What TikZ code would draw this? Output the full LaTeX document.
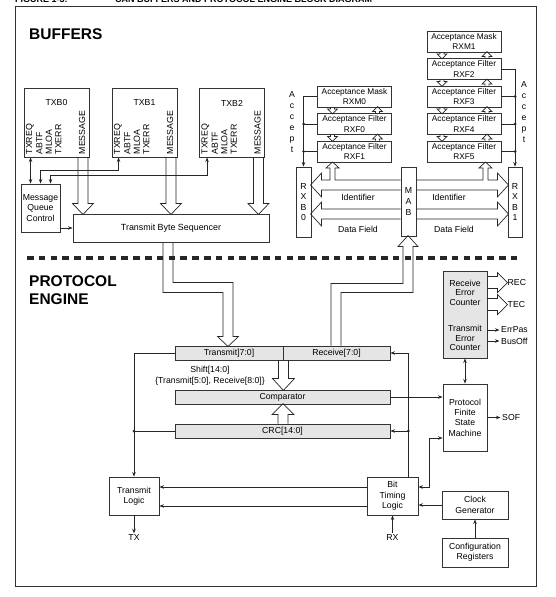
\documentclass[tikz,border=0pt]{standalone}
\usepackage{fontspec}
\setmainfont{Liberation Sans}
\usetikzlibrary{arrows.meta}

\begin{document}
\begin{tikzpicture}[x=1pt, y=-1pt,
	blk/.style={draw=black!80, line width=0.9pt, inner sep=0pt, align=center, font=\fontsize{8.7}{10.3}\selectfont},
	reg/.style={blk, fill=black!10},
	lbl/.style={inner sep=1.5pt, align=center, font=\fontsize{8.7}{10.8}\selectfont},
	sig/.style={inner sep=0pt, rotate=90, anchor=west, font=\fontsize{8.8}{10}\selectfont},
	wire/.style={draw=black!85, line width=0.7pt},
	arr/.style={wire, -{Stealth[length=4.5pt, width=3.5pt]}},
	darr/.style={wire, {Stealth[length=4.5pt, width=3.5pt]}-{Stealth[length=4.5pt, width=3.5pt]}},
	pipe/.style={draw=black!85, line width=0.7pt},
	dot/.style={circle, fill=black!85, inner sep=0pt, minimum size=3pt},
	title/.style={inner sep=0pt, anchor=base west, font=\fontsize{15.5}{18}\selectfont\bfseries}]
	\useasboundingbox (0,0) rectangle (555,597);
	\node[inner sep=0pt, anchor=base west, font=\fontsize{9}{10}\selectfont\bfseries] (fignum) at (15,2) {FIGURE 1-3:};
	\node[inner sep=0pt, anchor=base west, font=\fontsize{9}{10}\selectfont\bfseries] (figtitle) at (115,2) {CAN BUFFERS AND PROTOCOL ENGINE BLOCK DIAGRAM};
	\draw[black!80, line width=1pt] (15,6) rectangle (536,586);
	
	\node[title] (buf) at (29,39) {BUFFERS};
	\node[title] (pe1) at (29,286) {PROTOCOL};
	\node[title] (pe2) at (29,304) {ENGINE};
	
	\foreach \b/\x in {0/56.5, 1/144.5, 2/232}
	{
		\node[blk, minimum width=65pt, minimum height=69pt] (txb\b) at (\x,122.5) {};
		\node[lbl, inner sep=0pt] (txb\b n) at (\x,103) {TXB\b};
		\foreach \s/\dx in {TXREQ/6.3, ABTF/15.8, MLOA/25.3, TXERR/34.8, MESSAGE/58.5}
			\node[sig] (txb\b\s) at ([xshift=\dx pt, yshift=3pt]txb\b.south west) {\s};
		\draw[pipe] ([xshift=-11.5pt]txb\b.south east) -- ++(0,46) -- ++(-5.5,0) -- ++(10.5,11) -- ++(10.5,-11) -- ++(-5.5,0) -- ++(0,-46);
	}
	\node[blk, minimum width=39pt, minimum height=48pt] (mqc) at (40.5,208) {Message\\Queue\\Control};
	\node[blk, minimum width=196pt, minimum height=28pt, font=\fontsize{8.9}{10}\selectfont] (tbs) at (171,228) {Transmit Byte Sequencer};
	\draw[darr] ([xshift=7pt]txb0.south west) -- ([xshift=10pt]mqc.north west);
	\draw[darr] ([xshift=20pt]mqc.north west) |- ([xshift=7pt, yshift=-13pt]txb1.south west) -- ([xshift=7pt]txb1.south west);
	\draw[darr] ([xshift=30pt]mqc.north west) |- ([xshift=8pt, yshift=-18pt]txb2.south west) -- ([xshift=8pt]txb2.south west);
	\draw[arr] (mqc.east |- tbs.west) -- (tbs.west);
	
	\foreach \nm/\kind/\reg/\cx/\cy in {rxm1/Mask/RXM1/464/41.5, rxf2/Filter/RXF2/464/69, rxf3/Filter/RXF3/464/96.5, rxf4/Filter/RXF4/464/124, rxf5/Filter/RXF5/464/151.5, rxm0/Mask/RXM0/354.5/96.5, rxf0/Filter/RXF0/354.5/124, rxf1/Filter/RXF1/354.5/151.5}
		\node[blk, minimum width=74pt, minimum height=21pt, font=\fontsize{8.3}{10.5}\selectfont] (\nm) at (\cx,\cy) {Acceptance \kind\\\reg};
	\foreach \u/\l in {rxm1/rxf2, rxf2/rxf3, rxf3/rxf4, rxf4/rxf5, rxm0/rxf0, rxf0/rxf1}
	{
		\draw[pipe] ([xshift=-24pt]\u.south) -- ++(0,1.5) -- ++(-3,0) -- ++(5,5) -- ++(5,-5) -- ++(-3,0) -- ++(0,-1.5);
		\draw[pipe] ([xshift=21pt]\l.north) -- ++(0,-1.5) -- ++(-3,0) -- ++(5,-5) -- ++(5,5) -- ++(-3,0) -- ++(0,1.5);
	}
	\node[blk, minimum width=15pt, minimum height=70pt, font=\fontsize{8.7}{10.6}\selectfont] (rxb0) at (303.5,202) {R\\X\\B\\0};
	\node[blk, minimum width=15pt, minimum height=69pt, font=\fontsize{8.7}{10.6}\selectfont] (mab) at (408.5,201.5) {M\\A\\B};
	\node[blk, minimum width=14pt, minimum height=70pt, font=\fontsize{8.7}{10.6}\selectfont] (rxb1) at (515,202) {R\\X\\B\\1};
	\node[lbl, font=\fontsize{8.7}{11}\selectfont] (accl) at (292,122.5) {A\\c\\c\\e\\p\\t};
	\node[lbl, font=\fontsize{8.7}{11}\selectfont] (accr) at (524,112.5) {A\\c\\c\\e\\p\\t};
	\draw[arr] (rxm0.west) -| (rxb0.north);
	\foreach \f in {rxf0, rxf1}
		\draw[wire] (\f.west) -- (\f.west -| rxb0.north) node[dot] {};
	\draw[arr] (rxf2.east) -| (rxb1.north);
	\foreach \f in {rxf3, rxf4, rxf5}
		\draw[wire] (\f.east) -- (\f.east -| rxb1.north) node[dot] {};
	
	\draw[pipe] ([yshift=21.5pt]mab.west) -- ++(-65.5,0) -- ++(0,-12) -- ++(4,0) -- ++(-6.5,-6) -- ++(-6.5,6) -- ++(4,0) -- ++(0,12) -- ++(-8.5,0) -- ++(0,-7) -- ++(-11,12) -- ++(11,12) -- ++(0,-7) -- ++(79,0);
	\draw[pipe] ([yshift=21.5pt]mab.east) -- ++(66.5,0) -- ++(0,-12) -- ++(-4,0) -- ++(6.5,-6) -- ++(6.5,6) -- ++(-4,0) -- ++(0,12) -- ++(9.5,0) -- ++(0,-7) -- ++(11,12) -- ++(-11,12) -- ++(0,-7) -- ++(-81,0);
	\draw[pipe] ([yshift=-7.5pt]mab.west) -- ++(-79,0) -- ++(0,-7) -- ++(-11,12) -- ++(11,12) -- ++(0,-7) -- ++(79,0);
	\draw[pipe] ([yshift=-7.5pt]mab.east) -- ++(81,0) -- ++(0,-7) -- ++(11,12) -- ++(-11,12) -- ++(0,-7) -- ++(-81,0);
	\node[lbl] (idl) at (358,197) {Identifier};
	\node[lbl] (idr) at (449,197) {Identifier};
	\node[lbl] (dfl) at (358,229) {Data Field};
	\node[lbl] (dfr) at (454,229) {Data Field};
	
	\node[reg, minimum width=108pt, minimum height=14pt] (trx) at (229,353) {Transmit]7:0]};
	\node[reg, minimum width=107pt, minimum height=14pt] (rcv) at (336.5,353) {Receive[7:0]};
	\node[reg, minimum width=215pt, minimum height=14pt] (cmp) at (282.5,397) {Comparator};
	\node[reg, minimum width=215pt, minimum height=14pt] (crc) at (282.5,431) {CRC[14:0]};
	\node[lbl] (shift) at (210,375.5) {Shift[14:0]\\\{Transmit[5:0], Receive[8:0]\}};
	\node[reg, minimum width=44pt, minimum height=87pt] (ec) at (465,314.5) {};
	\node[lbl, inner sep=0pt, font=\fontsize{8.7}{9.6}\selectfont] (recnt) at (465,292.5) {Receive\\Error\\Counter};
	\node[lbl, inner sep=0pt, font=\fontsize{8.7}{9.6}\selectfont] (trcnt) at (465,338) {Transmit\\Error\\Counter};
	\node[blk, minimum width=44pt, minimum height=67pt] (pfsm) at (465,417.5) {Protocol\\Finite\\State\\Machine};
	\node[blk, minimum width=50pt, minimum height=38pt] (tl) at (134,496) {Transmit\\Logic};
	\node[blk, minimum width=51pt, minimum height=38pt] (btl) at (392.5,496) {Bit\\Timing\\Logic};
	\node[blk, minimum width=66pt, minimum height=28pt] (cg) at (475,505) {Clock\\Generator};
	\node[blk, minimum width=66pt, minimum height=29pt] (cfg) at (475,552.5) {Configuration\\Registers};
	\node[lbl] (tx) at (134,538) {TX};
	\node[lbl] (rx) at (392.5,538) {RX};
	\node[lbl, anchor=west] (sof) at (500.5,417.5) {SOF};
	\node[lbl, anchor=west] (errpas) at (499.5,330) {ErrPas};
	\node[lbl, anchor=west] (busoff) at (499.5,341) {BusOff};
	\node[lbl, anchor=west] (rec) at (506,283) {REC};
	\node[lbl, anchor=west] (tec) at (506,305) {TEC};
	
	\draw[pipe] ([xshift=-8pt]tbs.south) -- ++(0,50) -- ++(60,0) -- ++(0,44) -- ++(-5.5,0) -- ++(10.5,10) -- ++(10.5,-10) -- ++(-5.5,0) -- ++(0,-54) -- ++(-60,0) -- ++(0,-40);
	\draw[pipe] ([xshift=-5.5pt]rcv.north) -- ++(0,-62) -- ++(72,0) -- ++(0,-37) -- ++(-5,0) -- ++(10,-11) -- ++(10,11) -- ++(-5,0) -- ++(0,46) -- ++(-72,0) -- ++(0,53);
	\draw[pipe] ([xshift=-5pt]trx.south east) -- ++(0,18) -- ++(-6,0) -- ++(11,12) -- ++(11,-12) -- ++(-6,0) -- ++(0,-18);
	\draw[pipe] ([xshift=-4.5pt]crc.north) -- ++(0,-9) -- ++(-6,0) -- ++(11,-11) -- ++(11,11) -- ++(-6,0) -- ++(0,9);
	\draw[pipe] ([yshift=-6pt]ec.north east) -- ++(10,0) -- ++(0,-4) -- ++(10,10) -- ++(-10,10) -- ++(0,-4) -- ++(-10,0);
	\draw[pipe] ([yshift=-28pt]ec.north east) -- ++(10,0) -- ++(0,-4) -- ++(10,10) -- ++(-10,10) -- ++(0,-4) -- ++(-10,0);
	
	\draw[arr] (trx.west) -| (tl.north);
	\draw[wire] (crc.west) -- (crc.west -| tl.north) node[dot] {};
	\coordinate (bj) at ([xshift=-10pt]btl.north east);
	\draw[arr] (bj) |- (rcv.east);
	\draw[arr] (bj |- crc.east) node[dot] {} -- (crc.east);
	\draw[arr] (cmp.east) -- (cmp.east -| pfsm.west);
	\draw[darr] (ec.south) -- (pfsm.north);
	\draw[arr] (pfsm.east) -- (sof.west);
	\draw[arr] (ec.east |- errpas.west) -- (errpas.west);
	\draw[arr] (ec.east |- busoff.west) -- (busoff.west);
	\draw[arr] ([yshift=9pt]btl.west) -- ([yshift=9pt]tl.east);
	\draw[arr] ([yshift=-10pt]btl.west) -- ([yshift=-10pt]tl.east);
	\draw[arr] (tl.south) -- (tx.north);
	\draw[arr] (rx.north) -- (btl.south);
	\draw[darr] ([yshift=9pt]btl.east) -- ++(11,0) |- ([yshift=-20.5pt]pfsm.west);
	\draw[arr] (cg.west) -- (cg.west -| btl.east);
	\draw[arr] (cfg.north) -- (cg.south);
	
	\draw[black!85, line width=3.5pt, dash pattern=on 6.5pt off 5.3pt] (27,258) -- (522,258);
\end{tikzpicture}
\end{document}
